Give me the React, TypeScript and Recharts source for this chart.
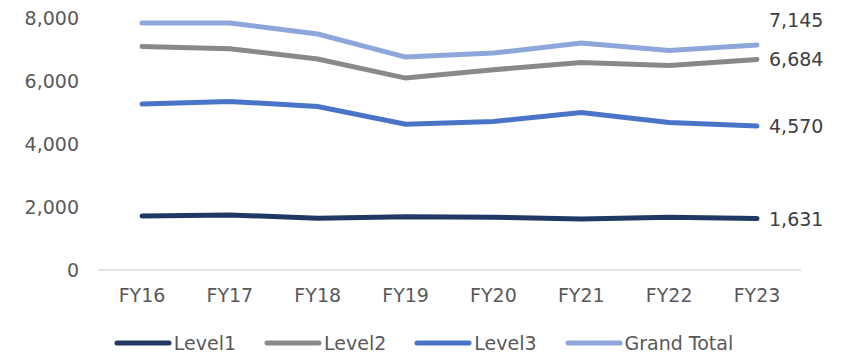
import { LineChart, Line, XAxis, YAxis, Legend, LabelList } from "recharts";

const categories = ["FY16", "FY17", "FY18", "FY19", "FY20", "FY21", "FY22", "FY23"];
const level1 = [1716, 1748, 1643, 1694, 1675, 1621, 1675, 1631];
const level2 = [7097, 7024, 6697, 6093, 6357, 6589, 6494, 6684];
const level3 = [5266, 5350, 5191, 4630, 4714, 5000, 4682, 4570];
const grandTotal = [7841, 7841, 7491, 6760, 6887, 7205, 6970, 7145];
const yTicks = [0, 2000, 4000, 6000, 8000];

const series = [
  { key: "level1", name: "Level1", color: "#203864", labelDy: 0 },
  { key: "level2", name: "Level2", color: "#898989", labelDy: 0 },
  { key: "level3", name: "Level3", color: "#4a74c8", labelDy: 0 },
  { key: "grandTotal", name: "Grand Total", color: "#8ea7db", labelDy: -25 },
];

const data = categories.map((name, i) => ({
  name,
  level1: level1[i],
  level2: level2[i],
  level3: level3[i],
  grandTotal: grandTotal[i],
}));

const FONT = "'DejaVu Sans', Verdana, sans-serif";
const fmt = (v: number) => v.toLocaleString("en-US");

// only the last point gets a value label, to the right of the line end
const endLabel = (dy: number) => (props: any) => {
  const { x, y, value, index } = props;
  if (index !== categories.length - 1) return null;
  return (
    <text
      x={x + 12}
      y={y + dy}
      dominantBaseline="central"
      fontSize={19}
      fontFamily={FONT}
      fill="#404040"
    >
      {fmt(value)}
    </text>
  );
};

// legend in series order (recharts would sort it by name)
const LegendContent = () => (
  <div
    style={{
      display: "flex",
      justifyContent: "center",
      gap: 28,
      fontFamily: FONT,
      fontSize: 19,
      color: "#595959",
      paddingTop: 14,
      paddingLeft: 46,
    }}
  >
    {series.map((s) => (
      <div key={s.key} style={{ display: "flex", alignItems: "center" }}>
        <svg width={58} height={10}>
          <line x1={3} y1={5} x2={55} y2={5} stroke={s.color} strokeWidth={5} strokeLinecap="round" />
        </svg>
        <span style={{ marginLeft: 2 }}>{s.name}</span>
      </div>
    ))}
  </div>
);

export default function App() {
  return (
    <div style={{ position: "absolute", left: 0, top: 0, background: "#fff" }}>
      <LineChart width={844} height={354} data={data} margin={{ top: 18, right: 43, left: 0, bottom: 0 }}>
        <XAxis
          dataKey="name"
          axisLine={{ stroke: "#d9d9d9", strokeWidth: 1.5 }}
          tickLine={false}
          tickSize={0}
          tickMargin={19}
          padding={{ left: 44, right: 44 }}
          height={48}
          interval={0}
          tick={{ fill: "#595959", fontSize: 19, fontFamily: FONT }}
        />
        <YAxis
          domain={[0, 8000]}
          ticks={yTicks}
          width={98}
          axisLine={false}
          tickLine={false}
          tickSize={0}
          tickMargin={19}
          tickFormatter={fmt}
          tick={{ fill: "#595959", fontSize: 19, fontFamily: FONT }}
        />
        <Legend verticalAlign="bottom" height={36} content={<LegendContent />} />
        {series.map((s) => (
          <Line
            key={s.key}
            dataKey={s.key}
            name={s.name}
            stroke={s.color}
            strokeWidth={5}
            strokeLinecap="round"
            dot={false}
            isAnimationActive={false}
          >
            <LabelList dataKey={s.key} content={endLabel(s.labelDy)} />
          </Line>
        ))}
      </LineChart>
    </div>
  );
}
